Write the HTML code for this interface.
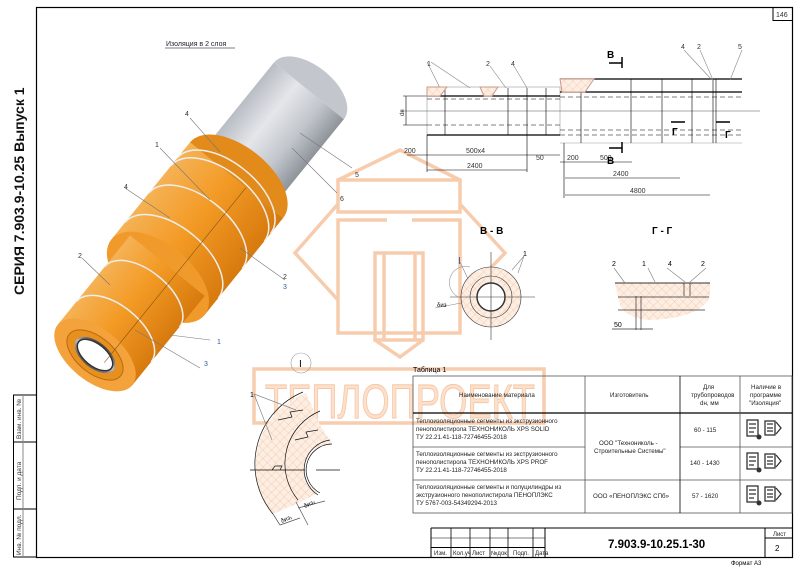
<!DOCTYPE html>
<html><head><meta charset="utf-8"><style>
html,body{margin:0;padding:0;background:#fff;}
svg{display:block;font-family:"Liberation Sans",sans-serif;}
</style></head><body>
<svg width="800" height="567" viewBox="0 0 800 567" xmlns="http://www.w3.org/2000/svg">
<defs>
<linearGradient id="og" x1="0" y1="0" x2="0" y2="1">
<stop offset="0" stop-color="#f5b255"/><stop offset="0.45" stop-color="#f39a25"/><stop offset="1" stop-color="#d77a0e"/></linearGradient>
<linearGradient id="sg" x1="0" y1="0" x2="0" y2="1">
<stop offset="0" stop-color="#b8bcc4"/><stop offset="0.35" stop-color="#e4e6ea"/><stop offset="0.7" stop-color="#c2c6cc"/><stop offset="1" stop-color="#8e939a"/></linearGradient>
<linearGradient id="pg" x1="0" y1="0" x2="1" y2="0">
<stop offset="0" stop-color="#555"/><stop offset="0.5" stop-color="#bbb"/><stop offset="1" stop-color="#444"/></linearGradient>
<pattern id="hatch" width="6" height="6" patternUnits="userSpaceOnUse" patternTransform="rotate(45)">
<rect width="6" height="6" fill="#fdeee3"/><path d="M0 0V6M0 0H6" stroke="#f0b58e" stroke-width="0.6"/></pattern>
</defs>

<!-- frame -->
<rect x="36.5" y="7.5" width="756" height="550" fill="none" stroke="#000" stroke-width="1.2"/>
<rect x="773" y="7.5" width="19.5" height="13" fill="none" stroke="#000" stroke-width="1"/>
<text x="776" y="17" font-size="7" fill="#333">146</text>
<!-- left stamp -->
<rect x="13.5" y="395" width="23" height="162" fill="none" stroke="#000" stroke-width="1"/>
<line x1="13" y1="442" x2="36" y2="442" stroke="#000"/>
<line x1="13" y1="509" x2="36" y2="509" stroke="#000"/>
<line x1="23" y1="395" x2="23" y2="557" stroke="#888" stroke-width="1"/>
<text transform="translate(21,439) rotate(-90)" font-size="6.5" fill="#333">Взам. инв. №</text>
<text transform="translate(21,500) rotate(-90)" font-size="6.5" fill="#333">Подп. и дата</text>
<text transform="translate(21,555) rotate(-90)" font-size="6.5" fill="#333">Инв. № подл.</text>
<text transform="translate(24,295) rotate(-90)" font-size="14" font-weight="bold" fill="#111">СЕРИЯ 7.903.9-10.25 Выпуск 1</text>

<text x="166" y="46" font-size="7" fill="#223">Изоляция в 2 слоя</text>
<line x1="165" y1="48" x2="235" y2="48" stroke="#555" stroke-width="0.7"/>

<!-- 3D pipe -->
<g transform="translate(95,355) rotate(-51)">
<rect x="205" y="-45" width="135" height="90" fill="url(#sg)"/>
<path d="M340 -45 A25 45 0 0 1 340 45 Z" fill="#c3c7cd"/>
<rect x="100" y="-60" width="125" height="120" fill="url(#og)"/>
<path d="M225 -60 A33 60 0 0 1 225 60 Z" fill="#e28a1a"/>
<ellipse cx="100" cy="0" rx="33" ry="60" fill="#f09a2c"/>
<rect x="0" y="-48" width="115" height="96" fill="url(#og)"/>
<ellipse cx="0" cy="0" rx="26" ry="48" fill="#f3a23c"/>
<ellipse cx="0" cy="0" rx="18" ry="33" fill="#e8901e" stroke="#b86a10"/>
<ellipse cx="0" cy="0" rx="13" ry="24" fill="url(#pg)"/>
<ellipse cx="0" cy="0" rx="11" ry="21" fill="#fff" stroke="#333" stroke-width="1.5"/>
<g fill="none" stroke="#eee" stroke-width="1.5">
<path d="M30 -48 A26 48 0 0 1 30 48"/><path d="M75 -48 A26 48 0 0 1 75 48"/>
<path d="M122 -60 A33 60 0 0 1 122 60"/><path d="M160 -60 A33 60 0 0 1 160 60"/>
<path d="M195 -60 A33 60 0 0 1 195 60"/><path d="M205 -60 A33 60 0 0 1 205 60"/>
</g>
<line x1="0" y1="12" x2="225" y2="12" stroke="#7a4a10" stroke-width="0.5"/>
</g>

<!-- watermark -->
<g fill="none" stroke="#f7c7a5" stroke-width="3.5" opacity="0.9">
<path d="M338 204 L295 253 L338 300 M460 204 L505 253 L460 300 M338 180 L400 150 L460 180"/>
<rect x="338" y="180" width="122" height="32"/>
<path d="M387 220 H338 V333 H460 V220 H412"/>
<rect x="375" y="253" width="48" height="87"/>
<line x1="384" y1="253" x2="384" y2="340"/><line x1="415" y1="253" x2="415" y2="340"/>
<path d="M375 340 L400 357 L423 340"/>
<rect x="254" y="369" width="290" height="54"/>
</g>
<text x="265" y="418" font-size="48" textLength="270" lengthAdjust="spacingAndGlyphs" fill="#fbe0cc" stroke="#f7c7a5" stroke-width="1">ТЕПЛОПРОЕКТ</text>

<g stroke="#777" stroke-width="0.6" fill="none">
<path d="M190 118 L220 152 M160 148 L210 200 M125 188 L170 218 M82 258 L110 285 M300 133 L352 168 M292 148 L337 193 M240 248 L285 280 M170 335 L210 340 M135 330 L200 368"/>
</g>
<g font-size="7" fill="#333">
<text x="185" y="116">4</text><text x="155" y="147">1</text><text x="124" y="189">4</text><text x="78" y="258">2</text>
<text x="355" y="177">5</text><text x="340" y="201">6</text><text x="283" y="279">2</text><text x="283" y="289" fill="#2a5aa0">3</text>
<text x="217" y="344" fill="#2a5aa0">1</text><text x="204" y="366" fill="#2a5aa0">3</text>
</g>

<!-- top-right drawing -->
<g stroke="#000" fill="none" stroke-width="0.6">
<rect x="427" y="87" width="133" height="48" stroke="#999"/>
<line x1="427" y1="96" x2="560" y2="96" stroke-width="1.2"/>
<line x1="427" y1="135" x2="560" y2="135" stroke-width="1.2"/>
<line x1="427" y1="99" x2="560" y2="99" stroke-dasharray="5,3"/>
<line x1="427" y1="125" x2="560" y2="125" stroke-dasharray="5,3"/>
<line x1="400" y1="111" x2="760" y2="111" stroke="#555"/>
<line x1="560" y1="79" x2="742" y2="79" stroke-width="1.2"/>
<line x1="560" y1="92" x2="742" y2="92" stroke-width="1.2"/>
<line x1="560" y1="97" x2="742" y2="97" stroke-dasharray="5,3"/>
<line x1="560" y1="130" x2="742" y2="130" stroke-dasharray="5,3"/>
<line x1="560" y1="135" x2="742" y2="135" stroke-dasharray="5,3"/>
<line x1="560" y1="143" x2="742" y2="143" stroke="#999"/>
<path d="M445 88 V135 M508 88 V135 M527 88 V135 M546 88 V135 M581 79 V143 M631 79 V143 M662 79 V143 M692 79 V143 M713 79 V143 M716 79 V143"/>
<path d="M406 96 V125 M403 96 H427 M403 125 H427"/>
<path d="M407 155 H508 M427 170 H527 M472 155 H560 M560 162 H632 M565 178 H680 M565 195 H710 M564 143 V198 M427 135 V172 M527 135 V172"/>
<path d="M622 57 V68 M609 63 H622 M622 142 V153 M609 148 H622 M671 122 H685 M716 122 H730" stroke-width="1.5"/>
<path d="M427 62 L440 88 M431 62 L470 88 M490 66 L506 88 M514 66 L527 88 M684 50 L712 80 M700 50 L713 80 M742 50 L730 80" stroke="#888"/>
</g>
<g fill="url(#hatch)" stroke="#c98">
<path d="M427 87 H447 L440 96 H427 Z"/><path d="M480 87 H498 L492 96 H484 Z"/><path d="M560 79 H594 L585 92 H562 Z"/>
</g>
<g font-size="7" fill="#333">
<text x="427" y="66">1</text><text x="486" y="66">2</text><text x="511" y="66">4</text>
<text x="681" y="49">4</text><text x="697" y="49">2</text><text x="738" y="49">5</text>
<text x="404" y="153">200</text><text x="466" y="153">500x4</text><text x="467" y="168">2400</text>
<text x="536" y="160">50</text><text x="567" y="160">200</text><text x="600" y="160">500</text>
<text x="613" y="176">2400</text><text x="630" y="193">4800</text>
<text transform="translate(404,116) rotate(-90)" font-size="6">dн</text>
</g>
<g font-size="10" font-weight="bold"><text x="607" y="58">В</text><text x="607" y="164">В</text><text x="672" y="135">Г</text><text x="725" y="138">Г</text></g>

<!-- B-B -->
<text x="480" y="234" font-size="10" font-weight="bold">В - В</text>
<g stroke="#333" fill="none" stroke-width="0.6">
<circle cx="491" cy="297" r="30" fill="url(#hatch)"/>
<circle cx="491" cy="297" r="21"/>
<circle cx="491" cy="297" r="14" fill="#fff" stroke-width="1.5"/>
<path d="M450 297 H535 M491 252 V340"/>
<path d="M461 298 A16 16 0 0 1 470 267" stroke="#999"/>
<path d="M468 279 L460 262 M512 270 L524 256 M518 273 L524 256 M461 303 L435 308" stroke="#888"/>
</g>
<text x="458" y="264" font-size="10" fill="#2a5aa0">I</text>
<text x="523" y="256" font-size="7">1</text>
<text x="437" y="307" font-size="6">δиз</text>

<!-- Г-Г -->
<text x="652" y="234" font-size="10" font-weight="bold">Г - Г</text>
<path d="M615 283 H710 V297 Q700 318 650 320 Q620 318 618 297 Z" fill="url(#hatch)"/>
<g stroke="#333" fill="none" stroke-width="0.7">
<line x1="615" y1="283" x2="710" y2="283" stroke-width="1"/>
<line x1="618" y1="297" x2="709" y2="297"/>
<line x1="618" y1="310" x2="705" y2="310"/>
<path d="M636 296 V330 M641 296 V330 M684 283 V296 M690 283 V296 M612 329 H653"/>
<path d="M614 268 L625 283 M648 268 L655 282 M667 268 L685 282 M706 268 L690 282" stroke="#888"/>
</g>
<g font-size="7"><text x="612" y="266">2</text><text x="642" y="266">1</text><text x="668" y="266">4</text><text x="701" y="266">2</text><text x="614" y="327">50</text></g>

<!-- Detail I -->
<circle cx="301" cy="363" r="10" fill="none" stroke="#999" stroke-width="0.6"/>
<text x="299" y="367" font-size="10">I</text>
<path d="M306 393 A77 77 0 0 0 273 514 L296 504 A50 50 0 0 1 320 425 Z" fill="url(#hatch)"/>
<path d="M320 425 A50 50 0 0 0 296 504 L318 493 A26 26 0 0 1 332 444 Z" fill="url(#hatch)"/>
<g fill="none" stroke="#111" stroke-width="0.7">
<path d="M303 392 A78 78 0 0 0 273 514"/>
<path d="M320 411 A57 57 0 0 0 298 500"/>
<path d="M330 440 A30 30 0 0 0 318 495"/>
<path d="M332 444 A26 26 0 0 0 320 493"/>
<path d="M250 470 H305 M316 470 H340"/>
<path d="M278 420 L292 417 L290 412 L303 410 M295 440 L308 437 L306 432 L318 430 M272 470 L275 466 L282 466 L280 470"/>
<path d="M296 502 L308 525 M273 514 L280 525 M280 525 L300 518 M298 508 L325 501" stroke="#555"/>
<path d="M254 394 L272 440 M254 394 L296 410" stroke="#888"/>
</g>
<g font-size="6"><text x="250" y="397" font-size="7">1</text><text x="282" y="523" transform="rotate(-25 282 523)">δиз₁</text><text x="305" y="508" transform="rotate(-25 305 508)">δиз₂</text></g>

<!-- table -->
<text x="413" y="372" font-size="7">Таблица 1</text>
<g stroke="#555" fill="none" stroke-width="0.8">
<rect x="413" y="376" width="379" height="137"/>
<line x1="413" y1="413" x2="792" y2="413" stroke="#000" stroke-width="1.2"/>
<line x1="413" y1="447" x2="585" y2="447"/><line x1="413" y1="480" x2="792" y2="480"/>
<line x1="680" y1="447" x2="792" y2="447"/>
<line x1="585" y1="376" x2="585" y2="513"/><line x1="680" y1="376" x2="680" y2="513" stroke="#000"/><line x1="740" y1="376" x2="740" y2="513"/>
</g>
<g font-size="6.2" fill="#222">
<text x="459" y="397">Наименование материала</text>
<text x="610" y="397">Изготовитель</text>
<text x="703" y="389">Для</text><text x="691" y="397">трубопроводов</text><text x="700" y="405">dн, мм</text>
<text x="751" y="389">Наличие в</text><text x="750" y="397">программе</text><text x="749" y="405">"Изоляция"</text>
<text x="416" y="423">Теплоизоляционные сегменты из экструзионного</text><text x="416" y="431">пенополистирола ТЕХНОНИКОЛЬ XPS SOLID</text><text x="416" y="439">ТУ 22.21.41-118-72746455-2018</text>
<text x="416" y="456">Теплоизоляционные сегменты из экструзионного</text><text x="416" y="464">пенополистирола ТЕХНОНИКОЛЬ XPS PROF</text><text x="416" y="472">ТУ 22.21.41-118-72746455-2018</text>
<text x="416" y="489">Теплоизоляционные сегменты и полуцилиндры из</text><text x="416" y="497">экструзионного пенополистирола ПЕНОПЛЭКС</text><text x="416" y="505">ТУ 5767-003-54349294-2013</text>
<text x="599" y="445">ООО "Технониколь -</text><text x="594" y="453">Строительные Системы"</text>
<text x="593" y="498">ООО «ПЕНОПЛЭКС СПб»</text>
<text x="694" y="432">60 - 115</text><text x="690" y="465">140 - 1430</text><text x="692" y="498">57 - 1620</text>
</g>
<g id="ic">
<g fill="none" stroke="#333" stroke-width="1.3">
<rect x="747" y="420" width="11" height="16"/><path d="M749 424 H756 M749 428 H756 M749 432 H754"/>
<rect x="765" y="421" width="10" height="14"/><path d="M767 424 H773 M767 428 H773 M767 431 H773 M776 422 L781 428 L776 434"/>
</g>
<circle cx="759" cy="437" r="2.5" fill="#333"/>
</g>
<use href="#ic" y="33"/><use href="#ic" y="66"/>

<!-- title block -->
<g stroke="#000" fill="none" stroke-width="1">
<path d="M431 528 H792 M431 528 V557 M545 528 V557 M765 528 V557 M765 538 H792 M431 547.5 H545"/>
<path d="M451 528 V557 M470 528 V557 M490 528 V557 M508 528 V557 M533 528 V557" stroke-width="0.8"/>
<path d="M431 538 H545" stroke-width="0.6"/>
</g>
<g font-size="6" fill="#222"><text x="434" y="555">Изм.</text><text x="453" y="555">Кол.уч</text><text x="472" y="555">Лист</text><text x="491" y="555">№док</text><text x="513" y="555">Подп.</text><text x="535" y="555">Дата</text><text x="773" y="536">Лист</text></g>
<text x="608" y="548" font-size="11.5" font-weight="bold">7.903.9-10.25.1-30</text>
<text x="775" y="551" font-size="8">2</text>
<text x="731" y="565" font-size="6">Формат А3</text>
</svg>
</body></html>
